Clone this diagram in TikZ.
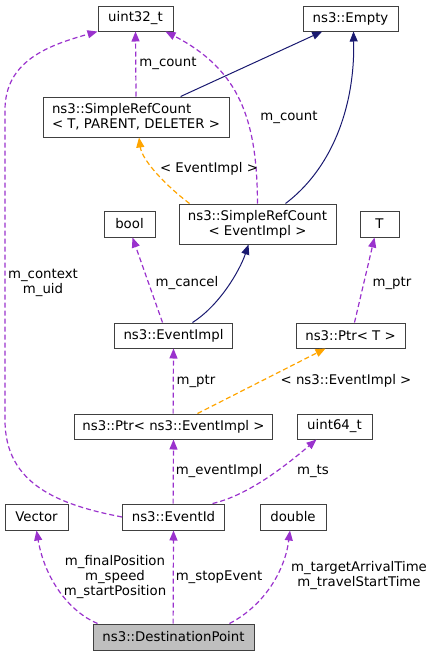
\documentclass[tikz,border=0pt]{standalone}
\usepackage{fontspec}
\setmainfont{DejaVu Sans}
\usetikzlibrary{arrows.meta}
\definecolor{depcol}{HTML}{9A32CD}
\definecolor{inhcol}{HTML}{191970}
\definecolor{tplcol}{HTML}{FFA500}
\definecolor{boxcol}{HTML}{404040}
\definecolor{curcol}{HTML}{BFBFBF}
\begin{document}
\begin{tikzpicture}[x=1pt, y=-1pt, font=\fontsize{13.3}{15}\selectfont,
	cls/.style={draw=boxcol, line width=1pt, fill=white, inner sep=0, align=center},
	dep/.style={draw=depcol, line width=1.2pt, dash pattern=on 5pt off 3pt, -{Triangle[length=10pt, width=8pt]}},
	inh/.style={draw=inhcol, line width=1pt, -{Triangle[length=10pt, width=8pt]}},
	tpl/.style={draw=tplcol, line width=1.2pt, dash pattern=on 5pt off 3pt, -{Triangle[length=10pt, width=8pt]}},
	lbl/.style={inner sep=0, align=center}]
			\useasboundingbox (0,0) rectangle (433,656);
			\node (u32) [cls, minimum width=75, minimum height=25] at (135.5,18.5) {uint32\_t};
			\node (empty) [cls, minimum width=95, minimum height=25] at (350.5,18.5) {ns3::Empty};
			\node (srcT) [cls, minimum width=186, minimum height=40, align=left] at (136,117) {ns3::SimpleRefCount\\< T, PARENT, DELETER >};
			\node (bool) [cls, minimum width=51, minimum height=26] at (129.5,224) {bool};
			\node (srcE) [cls, minimum width=157, minimum height=40] at (257.5,224) {ns3::SimpleRefCount\\< EventImpl >};
			\node (T) [cls, minimum width=39, minimum height=26] at (379.5,224) {T};
			\node (impl) [cls, minimum width=118, minimum height=25] at (173.5,335.5) {ns3::EventImpl};
			\node (ptrT) [cls, minimum width=109, minimum height=25] at (350.5,335.5) {ns3::Ptr< T >};
			\node (ptrE) [cls, minimum width=198, minimum height=25] at (173.5,426.5) {ns3::Ptr< ns3::EventImpl >};
			\node (u64) [cls, minimum width=75, minimum height=25] at (334.5,426.5) {uint64\_t};
			\node (vec) [cls, minimum width=63, minimum height=26] at (36.5,517) {Vector};
			\node (ev) [cls, minimum width=102, minimum height=26] at (173.5,517) {ns3::EventId};
			\node (dbl) [cls, minimum width=66, minimum height=26] at (293,517) {double};
			\node (dest) [cls, fill=curcol, minimum width=161, minimum height=26] at (173.5,637) {ns3::DestinationPoint};

			\draw[dep] (srcT.north) -- (u32.south);
			\draw[inh] (srcT) -- (empty);
			\draw[inh] ([xshift=28]srcE.north) .. controls (330,170) and (355,110) .. ([xshift=3]empty.south);
			\draw[dep] (srcE.north) .. controls (257,120) and (240,70) .. ([xshift=-8]u32.south east);
			\draw[tpl] ([xshift=11]srcE.north west) .. controls (165,185) and (142,160) .. ([xshift=3]srcT.south);
			\draw[dep] (ev.west) .. controls (60,505) and (5,485) .. (5,420) -- (5,110) .. controls (5,60) and (50,45) .. (u32.south west);
			\draw[dep] ([xshift=-11]impl.north) -- ([xshift=3]bool.south);
			\draw[inh] ([xshift=19]impl.north) .. controls (220,305) and (240,270) .. ([xshift=-9]srcE.south);
			\draw[dep] ([xshift=4]ptrT.north) -- ([xshift=-5]T.south);
			\draw[dep] ([xshift=-0.4]ptrE.north) -- (impl.south);
			\draw[tpl] ([xshift=24]ptrE.north) -- ([xshift=-25]ptrT.south);
			\draw[dep] ([xshift=-0.4]ev.north) -- (ptrE.south);
			\draw[dep] ([xshift=39]ev.north) .. controls (250,495) and (290,462) .. ([xshift=-18]u64.south);
			\draw[dep] ([xshift=5]dest.north west) .. controls (70,612) and (45,580) .. (vec.south);
			\draw[dep] ([xshift=-0.4]dest.north) -- (ev.south);
			\draw[dep] ([xshift=-25]dest.north east) .. controls (265,605) and (285,570) .. ([xshift=-3]dbl.south);

			\node (l1) [lbl] at (168,63) {m\_count};
			\node (l2) [lbl] at (289,117) {m\_count};
			\node (l3) [lbl] at (209,169) {< EventImpl >};
			\node (l4) [lbl] at (43,283) {m\_context\\m\_uid};
			\node (l5) [lbl] at (187,283) {m\_cancel};
			\node (l6) [lbl] at (392,283) {m\_ptr};
			\node (l7) [lbl] at (196,381) {m\_ptr};
			\node (l8) [lbl] at (346,381) {< ns3::EventImpl >};
			\node (l9) [lbl] at (219,471) {m\_eventImpl};
			\node (l10) [lbl] at (313,471) {m\_ts};
			\node (l11) [lbl] at (115,577) {m\_finalPosition\\m\_speed\\m\_startPosition};
			\node (l12) [lbl] at (219,577) {m\_stopEvent};
			\node (l13) [lbl] at (359,576) {m\_targetArrivalTime\\m\_travelStartTime};

		\end{tikzpicture}
\end{document}
